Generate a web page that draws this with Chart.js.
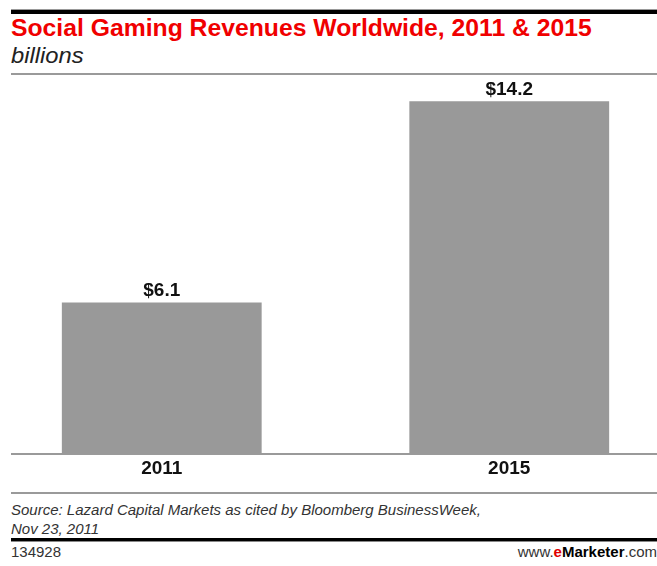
<!DOCTYPE html>
<html>
<head>
<meta charset="utf-8">
<script src="https://cdn.jsdelivr.net/npm/chart.js@4"></script>
<style>
  html, body { margin: 0; padding: 0; background: #fff; }
  body { width: 657px; height: 566px; position: relative; overflow: hidden;
         font-family: "Liberation Sans", Arial, sans-serif; }
  .rule { position: absolute; left: 11px; right: 0; }
  #topRule { top: 9px; height: 4px; background: #000; border-top: 1px solid #999; }
  #subRule { top: 73px; height: 2px; background: #9a9a9a; }
  #srcRule { top: 492px; height: 2px; background: #9a9a9a; }
  #footRule { top: 538px; height: 3px; background: #000; border-bottom: 1px solid #888; }
  #title { position: absolute; left: 11px; top: 15px; font-size: 23px; font-weight: bold;
           color: #f00000; white-space: nowrap; transform: scaleX(1.075); transform-origin: 0 0; }
  #unit { position: absolute; left: 11px; top: 43px; font-size: 22px; font-style: italic; color: #222;
          transform: scaleX(1.08); transform-origin: 0 0; }
  #source { position: absolute; left: 11px; top: 500px; font-size: 15px; font-style: italic;
            color: #333; line-height: 19px; }
  #id { position: absolute; left: 11px; top: 543px; font-size: 15px; color: #333; }
  #brand { position: absolute; right: 0px; top: 543px; font-size: 15px; color: #333; }
  #brand b { color: #000; }
  #brand .e { color: #e00000; font-weight: bold; }
  #wrap { position: absolute; left: 11px; top: 80px; width: 646px; height: 403px; overflow: hidden; }
  #chartBox { position: absolute; left: -23px; top: 0; width: 695px; height: 403px; }
</style>
</head>
<body>
<div class="rule" id="topRule"></div>
<div id="title">Social Gaming Revenues Worldwide, 2011 &amp; 2015</div>
<div id="unit">billions</div>
<div class="rule" id="subRule"></div>
<div id="wrap"><div id="chartBox"><canvas id="c"></canvas></div></div>
<div class="rule" id="srcRule"></div>
<div id="source">Source: Lazard Capital Markets as cited by Bloomberg BusinessWeek,<br>Nov 23, 2011</div>
<div class="rule" id="footRule"></div>
<div id="id">134928</div>
<div id="brand">www.<span class="e">e</span><b>Marketer</b>.com</div>
<script>
// Revenue in billions of US dollars
const years = ["2011", "2015"];
const revenue = [6.1, 14.2];
const valueLabels = ["$6.1", "$14.2"];

// Prints each bar's value just above it
const valueLabelPlugin = {
  id: "valueLabels",
  afterDatasetsDraw(chart) {
    const ctx = chart.ctx;
    const meta = chart.getDatasetMeta(0);
    ctx.save();
    ctx.font = "bold 19px 'Liberation Sans', Arial, sans-serif";
    ctx.fillStyle = "#111";
    ctx.textAlign = "center";
    ctx.textBaseline = "bottom";
    meta.data.forEach((bar, i) => {
      ctx.fillText(valueLabels[i], bar.x, bar.y - 2);
    });
    ctx.restore();
  }
};

new Chart(document.getElementById("c"), {
  type: "bar",
  data: {
    labels: years,
    datasets: [{
      data: revenue,
      backgroundColor: "#999999",
      borderWidth: 0,
      barPercentage: 0.575,
      categoryPercentage: 1.0
    }]
  },
  options: {
    responsive: true,
    maintainAspectRatio: false,
    animation: false,
    layout: { padding: 0 },
    plugins: { legend: { display: false }, tooltip: { enabled: false } },
    scales: {
      x: {
        grid: { display: false, drawTicks: false },
        border: { display: true, color: "#9a9a9a", width: 2 },
        ticks: {
          color: "#111",
          padding: 3,
          font: { family: "'Liberation Sans', Arial, sans-serif", size: 19, weight: "bold" }
        }
      },
      y: {
        display: false,
        min: 0,
        max: 15.05
      }
    }
  },
  plugins: [valueLabelPlugin]
});
</script>
</body>
</html>
